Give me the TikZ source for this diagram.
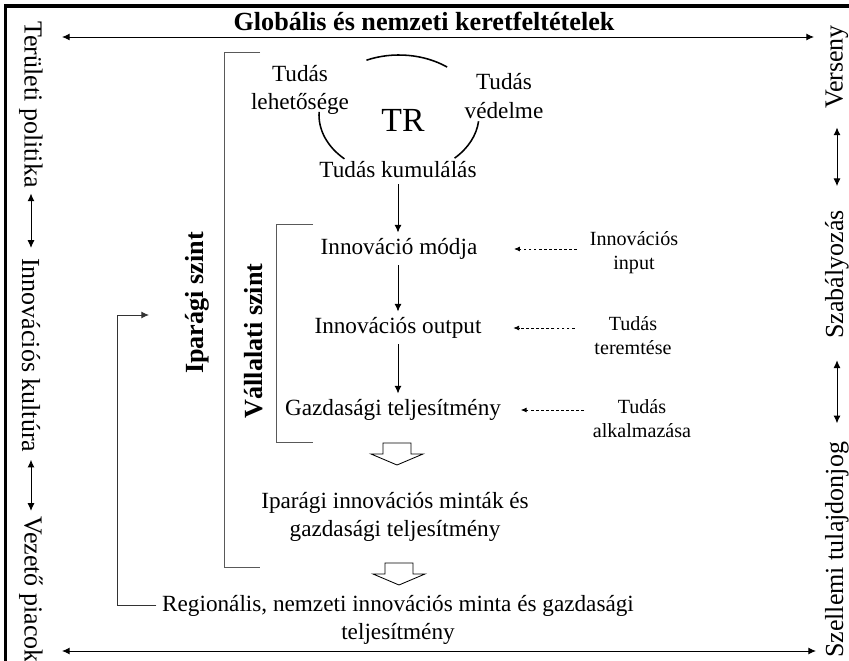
\documentclass[tikz,border=0pt]{standalone}
\usepackage{fontspec}
\setmainfont{Liberation Serif}
\usetikzlibrary{arrows.meta}

\tikzset{
  box/.style={font=\fontsize{16.5}{20}\selectfont, align=center, inner sep=4pt},
  note/.style={font=\fontsize{14.3}{17}\selectfont, align=center, inner sep=4pt},
  side/.style={font=\fontsize{18.5}{20}\selectfont, inner sep=2pt},
  level/.style={font=\bfseries\fontsize{18.6}{20}\selectfont, inner sep=0pt},
  flow/.style={-{Latex[length=5.5pt,width=5pt]}, line width=0.7pt},
  both/.style={{Latex[length=5.5pt,width=5pt]}-{Latex[length=5.5pt,width=5pt]}, line width=0.7pt},
  hint/.style={-{Latex[length=4pt,width=3.5pt]}, line width=0.5pt, dash pattern=on 2pt off 1.6pt},
  brace/.style={draw=black!65, line width=0.7pt},
  loopline/.style={line width=1.1pt},
}

\newcommand{\hollowarrow}[1]{%
  \draw[line width=0.6pt] (#1) ++(-14,0) -- ++(28,0) -- ++(0,11) -- ++(12,0)
    -- ++(-26,11) -- ++(-26,-11) -- ++(12,0) -- cycle;}

\begin{document}
\begin{tikzpicture}[x=0.025cm,y=-0.025cm]
  \useasboundingbox (0,0) rectangle (849,661);
  % frame
  \draw[line width=2.8pt, line join=miter] (5.5,661) -- (5.5,6) -- (849,6);

  % global conditions
  \node[level] (glob) at (424,21) {Globális és nemzeti keretfeltételek};
  \coordinate (tl) at (62,37);
  \coordinate (tr) at (814,37);
  \coordinate (bl) at (62,651);
  \coordinate (br) at (816,651);
  \draw[both] (tl) -- (tr);
  \draw[both] (bl) -- (br);

  % left column
  \node[side, rotate=-90, anchor=west] (terp) at (31,18) {Területi politika};
  \node[side, rotate=-90, anchor=west] (innk) at (31,255) {Innovációs kultúra};
  \node[side, rotate=-90, anchor=west] (vez) at (31,513) {Vezető piacok};
  \draw[both, shorten <=2pt, shorten >=5pt] (terp) -- (innk);
  \draw[both, shorten <=3pt, shorten >=1.5pt] (innk) -- (vez);

  % right column
  \node[side, rotate=90, anchor=west] (ver) at (837,112) {Verseny};
  \node[side, rotate=90, anchor=west] (sza) at (837,342) {Szabályozás};
  \node[side, rotate=90, anchor=west] (szt) at (837,661) {Szellemi tulajdonjog};
  \draw[both, shorten <=11pt, shorten >=15pt] (ver) -- (sza);
  \draw[both, shorten <=13pt, shorten >=11pt] (sza) -- (szt);

  % levels
  \draw[brace] (260,52) -- (224,52) -- (224,567) -- (260,567);
  \draw[brace] (313,224) -- (276,224) -- (276,442) -- (313,442);
  \node[level, rotate=90] (ipa) at (197,303) {Iparági szint};
  \node[level, rotate=90] (val) at (254,341) {Vállalati szint};

  % knowledge cycle
  \draw[loopline] (399,115) ++(-114:80 and 60) arc[start angle=-114, end angle=-53, x radius=80, y radius=60];
  \draw[loopline] (399,115) ++(183:80 and 60) arc[start angle=183, end angle=133, x radius=80, y radius=60];
  \draw[loopline] (399,115) ++(6:80 and 60) arc[start angle=6, end angle=46, x radius=80, y radius=60];
  \node[box] (leh) at (300,90) {Tudás\\lehetősége};
  \node[box] (ved) at (504,96) {Tudás\\védelme};
  \node[font=\fontsize{24}{26}\selectfont, inner sep=0pt] (tr) at (403,120) {TR};
  \node[box] (kum) at (398,170) {Tudás kumulálás};

  % firm level chain
  \node[box] (mod) at (399,249) {Innováció módja};
  \node[box] (out) at (398,328) {Innovációs output};
  \node[box] (gaz) at (393,410) {Gazdasági teljesítmény};
  \draw[flow] (kum) -- (kum |- mod.north);
  \draw[flow] (mod.south -| kum) -- (kum |- out.north);
  \draw[flow] (out.south -| kum) -- (kum |- gaz.north);

  % inputs
  \node[note] (inp) at (634,253) {Innovációs\\input};
  \node[note] (ter) at (633,336) {Tudás\\teremtése};
  \node[note] (alk) at (642,419) {Tudás\\alkalmazása};
  \draw[hint, shorten <=5pt, shorten >=22pt] (inp.west |- mod) -- (mod.east);
  \draw[hint, shorten <=10pt, shorten >=18.5pt] (ter.west |- out) -- (out.east);
  \draw[hint, shorten <=2pt, shorten >=10pt] (alk.west |- gaz) -- (gaz.east);

  % results
  \hollowarrow{397,443}
  \node[box] (ipm) at (395,517) {Iparági innovációs minták és\\gazdasági teljesítmény};
  \hollowarrow{399,563}
  \node[box] (reg) at (398,620) {Regionális, nemzeti innovációs minta és gazdasági\\teljesítmény};

  % feedback
  \coordinate (fbend) at (149,315);
  \draw[flow, black!80] ([yshift=10.5pt]reg.west) -- ++(-39,0) |- (fbend);
\end{tikzpicture}
\end{document}
